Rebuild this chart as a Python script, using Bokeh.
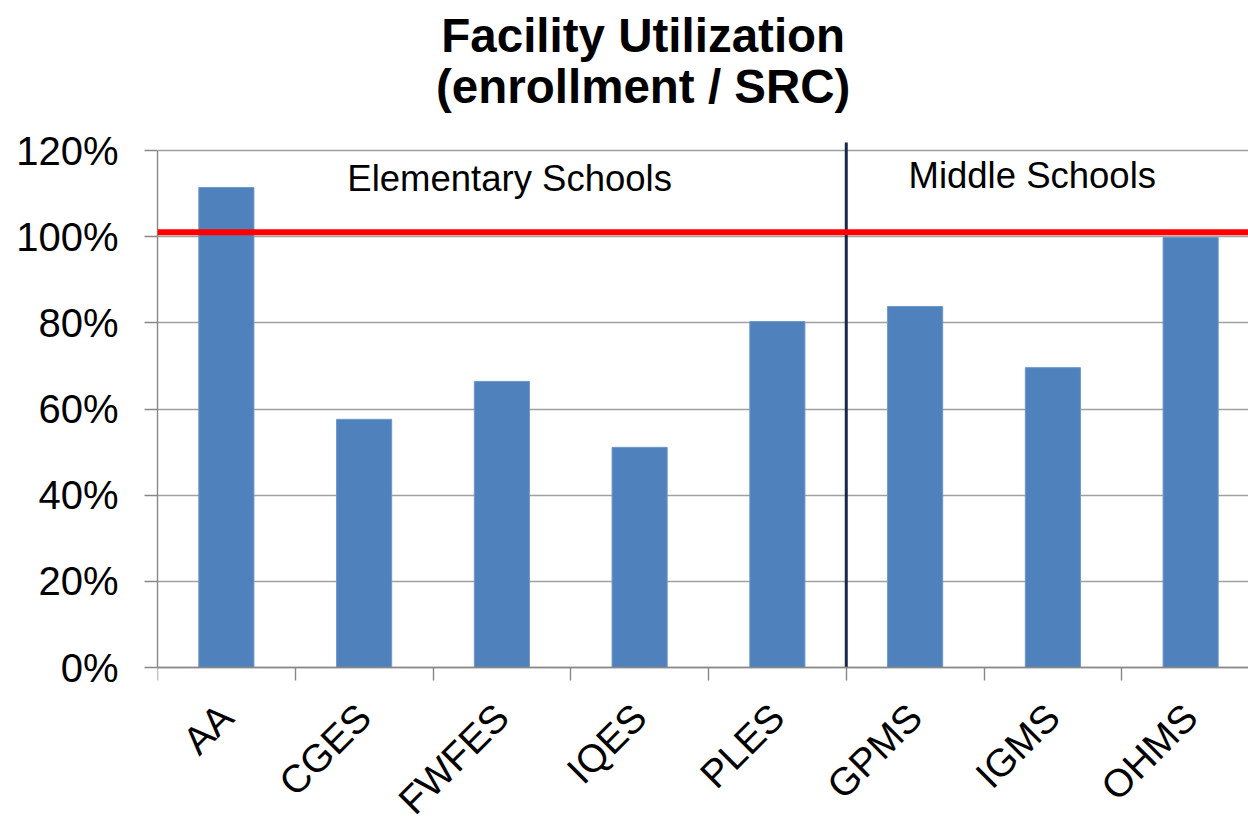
import math
from bokeh.plotting import figure
from bokeh.models import (Range1d, FixedTicker, PrintfTickFormatter, Span, Label,
                          ColumnDataSource)
from bokeh.core.properties import value
from bokeh.embed import file_html
from bokeh.resources import INLINE

# ---- data ----
schools = ["AA", "CGES", "FWFES", "IQES", "PLES", "GPMS", "IGMS", "OHMS"]
utilization = [111.4, 57.6, 66.4, 51.1, 80.3, 83.8, 69.6, 99.8]   # percent
capacity_line = 101.0          # red reference line (percent)
group_names = ["Elementary Schools", "Middle Schools"]
group_split = 5                # index where middle schools start
y_ticks = [0, 20, 40, 60, 80, 100, 120]
title_lines = ["Facility Utilization", "(enrollment / SRC)"]

FONT = "Liberation Sans"
n = len(schools)
centers = [i + 0.5 for i in range(n)]
bounds = list(range(0, n + 1))
PLOT_TOP = 121.86     # top of the plotting area (just above 120%)
Y_TOP = 154.82        # room above for the title
Y_BOTTOM = -36.44     # room below the axis for the rotated category labels

src = ColumnDataSource(dict(x=centers, top=utilization, name=schools,
                            base=[0] * n))

p = figure(width=1248, height=824,
           x_range=Range1d(0, 7.92), y_range=Range1d(Y_BOTTOM, Y_TOP),
           output_backend="svg", toolbar_location=None,
           min_border_left=157, min_border_right=0,
           min_border_top=0, min_border_bottom=0)
p.outline_line_color = None
p.background_fill_color = "white"
p.border_fill_color = "white"

p.vbar(x="x", top="top", width=0.4, bottom=0, source=src,
       fill_color="#4F81BD", line_color="#6E97CB", line_width=1)

# grid
p.xgrid.visible = False
p.ygrid.ticker = FixedTicker(ticks=y_ticks)
p.ygrid.grid_line_color = "#A0A0A0"
p.ygrid.grid_line_width = 1.4

# y axis
ya = p.yaxis[0]
ya.ticker = FixedTicker(ticks=y_ticks)
ya.formatter = PrintfTickFormatter(format="%d%%")
ya.bounds = (0, 120)
ya.axis_line_color = "#888888"
ya.axis_line_width = 1.4
ya.major_tick_line_color = "#888888"
ya.major_tick_line_width = 1.4
ya.major_tick_out = 13
ya.major_tick_in = 0
ya.minor_tick_line_color = None
ya.major_label_standoff = 26
ya.major_label_text_font = FONT
ya.major_label_text_font_size = "40px"
ya.major_label_text_color = "black"

# x axis: line + category-boundary ticks at y = 0 (labels drawn as rotated text)
xa = p.xaxis[0]
xa.fixed_location = 0
xa.ticker = FixedTicker(ticks=[], minor_ticks=bounds)
xa.axis_line_color = "#888888"
xa.axis_line_width = 1.4
xa.major_tick_out = 0
xa.major_tick_in = 0
xa.major_tick_line_color = None
xa.minor_tick_line_color = "#888888"
xa.minor_tick_line_width = 1.4
xa.minor_tick_out = 13
xa.minor_tick_in = 0
xa.major_label_standoff = 0

p.text(x="x", y="base", text="name", source=src, angle=math.pi / 4,
       y_offset=43, text_align="right", text_baseline="middle",
       text_font=value(FONT), text_font_size=value("39px"),
       text_color="black")

# reference lines
p.add_layout(Span(location=capacity_line, dimension="width",
                  line_color="#FF0000", line_width=6))
p.segment(x0=[group_split], y0=[0], x1=[group_split], y1=[PLOT_TOP],
          line_color="#17294A", line_width=3)

# group labels
p.add_layout(Label(x=2.556, y=113.6, text=group_names[0], text_align="center",
                   text_baseline="alphabetic", text_font=FONT,
                   text_font_size="36.5px", text_color="black"))
p.add_layout(Label(x=6.350, y=114.1, text=group_names[1], text_align="center",
                   text_baseline="alphabetic", text_font=FONT,
                   text_font_size="36.5px", text_color="black"))

# title (two lines)
for txt, yy in zip(title_lines, [146.7, 134.9]):
    p.add_layout(Label(x=3.526, y=yy, text=txt, text_align="center",
                       text_baseline="alphabetic", text_font=FONT,
                       text_font_style="bold", text_font_size="47.5px",
                       text_color="black"))

open("out.html", "w").write(file_html(p, INLINE))
